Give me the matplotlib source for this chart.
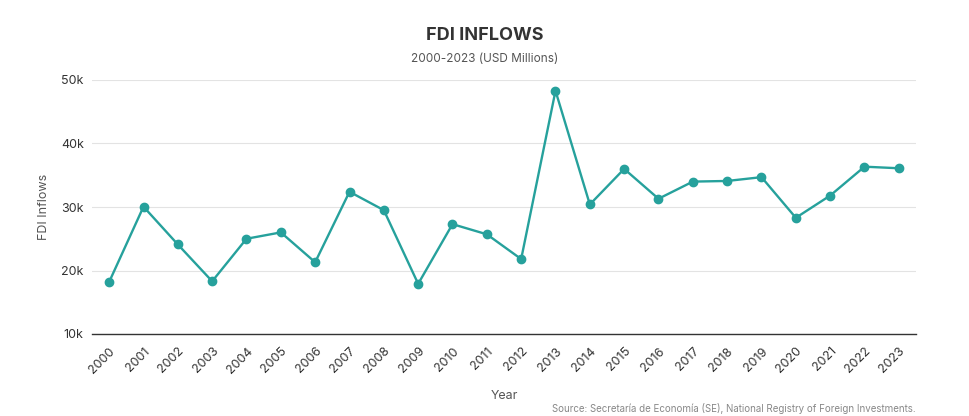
import matplotlib
matplotlib.use("Agg")
import matplotlib.pyplot as plt
from matplotlib.ticker import FuncFormatter

plt.rcParams['font.family'] = ['Inter', 'DejaVu Sans']

years = [str(y) for y in range(2000, 2024)]
fdi = [18200, 30050, 24100, 18300, 25000, 26000, 21300, 32400, 29500, 17900,
       27300, 25700, 21800, 48300, 30400, 36000, 31300, 34000, 34100, 34700,
       28300, 31800, 36350, 36100]
yticks = [10000, 20000, 30000, 40000, 50000]

fig = plt.figure(figsize=(9.7, 4.16), dpi=100)
ax = fig.add_axes([92/970, 1-334/416, (916-92)/970, (334-80)/416])

x = list(range(len(years)))
ax.plot(x, fdi, color='#26a19c', linewidth=1.7, marker='o', markersize=6, zorder=3)

ax.set_xlim(-0.5, len(years)-0.5)
ax.set_ylim(10000, 50000)
ax.set_yticks(yticks)
ax.yaxis.set_major_formatter(FuncFormatter(lambda v, p: f"{int(v/1000)}k"))
ax.set_xticks(x)
ax.set_xticklabels(years, rotation=45, ha='right', rotation_mode='anchor')
ax.grid(axis='y', color='#e3e3e3', linewidth=0.8)
ax.set_axisbelow(True)
for s in ['top', 'right', 'left']:
    ax.spines[s].set_visible(False)
ax.spines['bottom'].set_color('#333333')
ax.spines['bottom'].set_linewidth(1.0)
ax.tick_params(axis='both', length=0, labelsize=9, colors='#333333')
ax.tick_params(axis='x', pad=8)
ax.tick_params(axis='y', pad=6)

ax.set_ylabel('FDI Inflows', fontsize=9, color='#555555', labelpad=8)
ax.set_xlabel('Year', fontsize=9, color='#555555', labelpad=10)

fig.text(0.5, 1-35/416, 'FDI INFLOWS', ha='center', va='center', fontsize=13,
         fontweight='bold', color='#333333')
fig.text(0.5, 1-59/416, '2000-2023 (USD Millions)', ha='center', va='center',
         fontsize=8.5, color='#555555')
fig.text(916/970, 1-408/416, 'Source: Secretaría de Economía (SE), National Registry of Foreign Investments.',
         ha='right', va='center', fontsize=7, color='#888888')

fig.savefig('out.png', dpi=100)
